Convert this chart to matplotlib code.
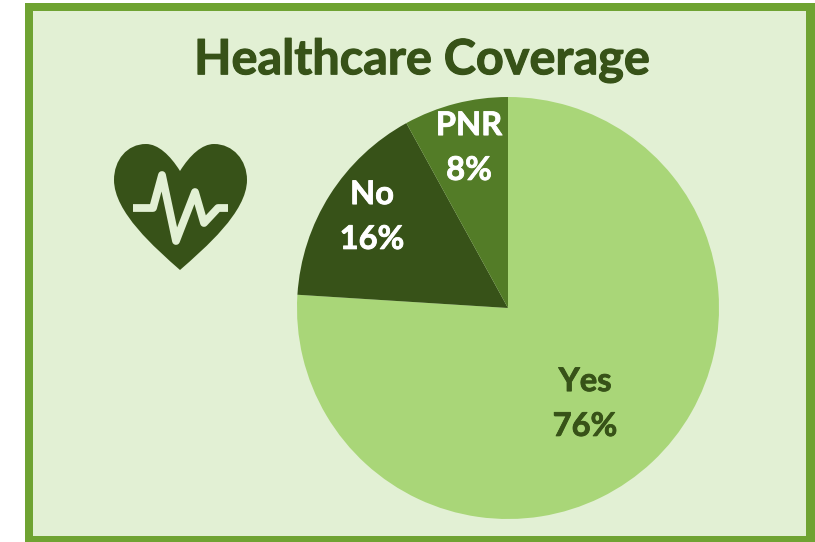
import matplotlib
matplotlib.use("Agg")
import matplotlib.pyplot as plt
import matplotlib.patheffects as pe
from matplotlib.patches import Rectangle, PathPatch
from matplotlib.path import Path

categories = ["Yes", "No", "PNR"]
values = [76, 16, 8]
slice_colors = ["#A9D678", "#375218", "#537C27"]
label_colors = ["#375218", "#FFFFFF", "#FFFFFF"]
label_positions = [(585, 404), (372, 217), (469, 148)]
title = "Healthcare Coverage"

W, H = 815, 542
DARK = "#375218"
PALE = "#E2F0D4"
BORDER = "#6FA332"
FONT = "Lato"


def Y(py):
    return H - py


fig = plt.figure(figsize=(W / 100, H / 100), dpi=100, facecolor="white")
ax = fig.add_axes([0, 0, 1, 1])
ax.set_axis_off()

ax.add_patch(Rectangle((25, Y(542)), 790, 539, facecolor=BORDER, edgecolor="none", zorder=0))
ax.add_patch(Rectangle((33, Y(536)), 773, 525, facecolor=PALE, edgecolor="none", zorder=1))

wedges, _ = ax.pie(values, colors=slice_colors, startangle=90, counterclock=False,
                   center=(508, Y(308)), radius=211, wedgeprops={"linewidth": 0})
for w in wedges:
    w.set_zorder(2)

for name, val, col, (px, py) in zip(categories, values, label_colors, label_positions):
    t = ax.text(px, Y(py), f"{name}\n{val}%", color=col, fontsize=23.5, fontweight="bold",
                family=FONT, ha="center", va="center", linespacing=1.66, zorder=3)
    t.set_path_effects([pe.withStroke(linewidth=0.6, foreground=col)])

tt = ax.text(422, Y(60), title, color=DARK, fontsize=35, fontweight="bold", family=FONT,
             ha="center", va="center", zorder=3)
tt.set_path_effects([pe.withStroke(linewidth=0.8, foreground=DARK)])

# Heart icon
heart_verts = [(180, 171),
               (170, 155), (158, 144), (146, 144),
               (127, 144), (114, 160), (114, 180),
               (114, 212), (155, 248), (180, 270),
               (205, 248), (247, 212), (247, 180),
               (247, 160), (233, 144), (214, 144),
               (202, 144), (190, 155), (180, 171)]
heart_codes = [Path.MOVETO] + [Path.CURVE4] * 18
ax.add_patch(PathPatch(Path([(x, Y(y)) for x, y in heart_verts], heart_codes),
                       facecolor=DARK, edgecolor="none", zorder=3))

# Pulse line inside the heart
pulse = [(133, 208), (153, 208), (162, 175), (176, 241), (195, 192), (204, 223), (218, 208), (228, 208)]
ax.plot([p[0] for p in pulse], [Y(p[1]) for p in pulse], color=PALE, lw=5.6,
        solid_joinstyle="round", solid_capstyle="butt", zorder=4)

ax.set_xlim(0, W)
ax.set_ylim(0, H)
ax.set_aspect("auto")
fig.savefig("out.png", dpi=100)
